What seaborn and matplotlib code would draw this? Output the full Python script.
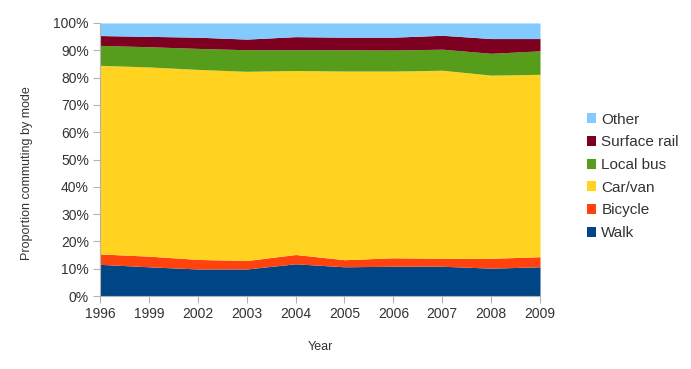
import numpy as np
import matplotlib
matplotlib.use("Agg")
import matplotlib.pyplot as plt
from matplotlib.patches import Patch
import seaborn as sns

# Datos (porcentaje por modo de transporte)
years = ["1996", "1999", "2002", "2003", "2004", "2005", "2006", "2007", "2008", "2009"]
modes = ["Walk", "Bicycle", "Car/van", "Local bus", "Surface rail", "Other"]

walk = [11.6, 10.7, 9.9, 9.9, 11.8, 10.7, 10.9, 10.9, 10.2, 10.7]
bicycle = [3.8, 3.9, 3.5, 3.1, 3.4, 2.6, 3.1, 2.9, 3.6, 3.7]
car_van = [69.1, 69.3, 69.6, 69.3, 67.4, 69.1, 68.4, 68.9, 67.1, 66.8]
local_bus = [7.3, 7.4, 7.7, 7.9, 7.6, 7.8, 7.7, 7.7, 8.0, 8.6]
surface_rail = [3.6, 3.8, 4.1, 3.9, 4.8, 4.6, 4.7, 5.1, 5.4, 4.5]
other = [4.6, 4.9, 5.2, 5.9, 5.0, 5.2, 5.2, 4.5, 5.7, 5.7]

colors = ["#004586", "#FF420E", "#FFD320", "#579D1C", "#7E0021", "#83CAFF"]

sns.set_theme(style="white")
plt.rcParams["font.family"] = ["Liberation Sans", "DejaVu Sans"]

fig = plt.figure(figsize=(6.91, 3.69), dpi=100)
ax = fig.add_axes([0.1447, 0.1978, 0.6368, 0.7399])

x = np.arange(len(years))
series = [walk, bicycle, car_van, local_bus, surface_rail, other]
ax.stackplot(x, *series, colors=colors, linewidth=0)

ax.set_xlim(0, len(years) - 1)
ax.set_ylim(0, 100)
ax.set_xticks(x)
ax.set_xticklabels(years)
ax.set_yticks(np.arange(0, 101, 10))
ax.set_yticklabels([f"{v}%" for v in range(0, 101, 10)])

for side in ["top", "right"]:
    ax.spines[side].set_visible(False)
for side in ["left", "bottom"]:
    ax.spines[side].set_color("#b3b3b3")
    ax.spines[side].set_linewidth(0.8)
    ax.spines[side].set_zorder(5)

ax.tick_params(axis="both", which="major", direction="out", length=5,
               width=0.8, color="#b3b3b3", labelsize=10, labelcolor="#333333",
               left=True, bottom=True, pad=3)

ax.set_xlabel("Year", fontsize=9, color="#333333")
ax.set_ylabel("Proportion commuting by mode", fontsize=9, color="#333333")
ax.xaxis.set_label_coords(0.5, -0.165)
ax.yaxis.set_label_coords(-0.153, 0.45)

handles = [Patch(facecolor=c, edgecolor="none") for c in colors]
leg = fig.legend(handles[::-1], modes[::-1], loc="center left",
                 bbox_to_anchor=(0.840, 0.522), frameon=False,
                 fontsize=11, handlelength=0.62, handleheight=0.62,
                 handletextpad=0.35, labelspacing=0.57, borderaxespad=0)
for t in leg.get_texts():
    t.set_color("#333333")

fig.savefig("out.png", dpi=100)
